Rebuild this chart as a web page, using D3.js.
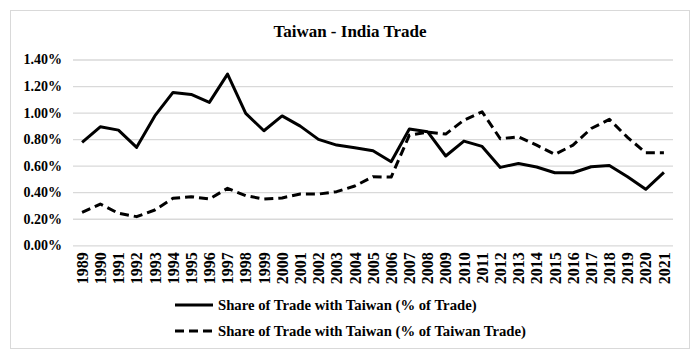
<!DOCTYPE html>
<html><head><meta charset="utf-8">
<script src="https://cdn.jsdelivr.net/npm/d3@7"></script>
<style>body{margin:0;background:#fff}svg{display:block}</style>
</head><body><svg id="c" width="700" height="360"></svg>
<script>
const years = ["1989","1990","1991","1992","1993","1994","1995","1996","1997","1998","1999","2000","2001","2002","2003","2004","2005","2006","2007","2008","2009","2010","2011","2012","2013","2014","2015","2016","2017","2018","2019","2020","2021"];
const shareOfTrade = [0.775,0.893,0.868,0.738,0.975,1.152,1.137,1.077,1.290,0.994,0.863,0.975,0.898,0.798,0.755,0.735,0.713,0.630,0.876,0.856,0.673,0.785,0.745,0.587,0.617,0.590,0.547,0.547,0.592,0.602,0.517,0.422,0.550];
const shareOfTaiwanTrade = [0.248,0.311,0.241,0.216,0.266,0.354,0.366,0.349,0.429,0.374,0.349,0.357,0.386,0.386,0.404,0.447,0.517,0.514,0.830,0.853,0.838,0.943,1.006,0.803,0.818,0.755,0.685,0.755,0.880,0.949,0.813,0.698,0.698];
const yTicks = [0,0.2,0.4,0.6,0.8,1.0,1.2,1.4];
const title = "Taiwan - India Trade";
const seriesNames = ["Share of Trade with Taiwan (% of Trade)","Share of Trade with Taiwan (% of Taiwan Trade)"];

const FONT = "'Liberation Serif', 'Times New Roman', Tinos, 'DejaVu Serif', serif";
const svg = d3.select("#c");
svg.append("rect").attr("x",10.5).attr("y",10.5).attr("width",679).attr("height",338)
  .attr("fill","#fff").attr("stroke","#d9d9d9").attr("stroke-width",1);

const x = d3.scaleBand().domain(years).range([73,673]);
const y = d3.scaleLinear().domain([0,1.4]).range([245.3,59.5]);

svg.append("text").attr("x",350).attr("y",37).attr("text-anchor","middle")
  .style("font-family",FONT).style("font-weight","bold").style("font-size","17px").text(title);

const gy = svg.append("g").attr("transform","translate(73,0)")
  .call(d3.axisLeft(y).tickValues(yTicks).tickFormat(d=>d3.format(".2f")(d)+"%").tickSize(-600).tickPadding(11));
gy.select(".domain").remove();
gy.selectAll(".tick line").attr("stroke","#d9d9d9").attr("stroke-width",1.3);
gy.selectAll(".tick text").style("font-family",FONT).style("font-weight","bold").style("font-size","14px");

const gx = svg.append("g").attr("transform","translate(0,245.3)")
  .call(d3.axisBottom(x).tickSize(0));
gx.select(".domain").remove();
gx.selectAll(".tick text").style("font-family",FONT).style("font-weight","bold").style("font-size","16px")
  .attr("transform","rotate(-90)").attr("text-anchor","end").attr("dy","0.36em").attr("x",-7).attr("y",0);

const line = d3.line().x((d,i)=>x(years[i])+x.bandwidth()/2).y(d=>y(d));
svg.append("path").datum(shareOfTrade).attr("d",line).attr("fill","none").attr("stroke","#000")
  .attr("stroke-width",3).attr("stroke-linejoin","round");
svg.append("path").datum(shareOfTaiwanTrade).attr("d",line).attr("fill","none").attr("stroke","#000")
  .attr("stroke-width",3).attr("stroke-dasharray","9,5").attr("stroke-linejoin","round");

const leg = svg.append("g");
[0,1].forEach(i=>{
  const ly = 305 + i*26;
  leg.append("line").attr("x1",175).attr("x2",213).attr("y1",ly).attr("y2",ly)
    .attr("stroke","#000").attr("stroke-width",3).attr("stroke-dasharray", i===1?"9,5":null);
  leg.append("text").attr("x",218).attr("y",ly).attr("dy","0.35em")
    .style("font-family",FONT).style("font-weight","bold").style("font-size","14.7px").text(seriesNames[i]);
});
</script></body></html>
